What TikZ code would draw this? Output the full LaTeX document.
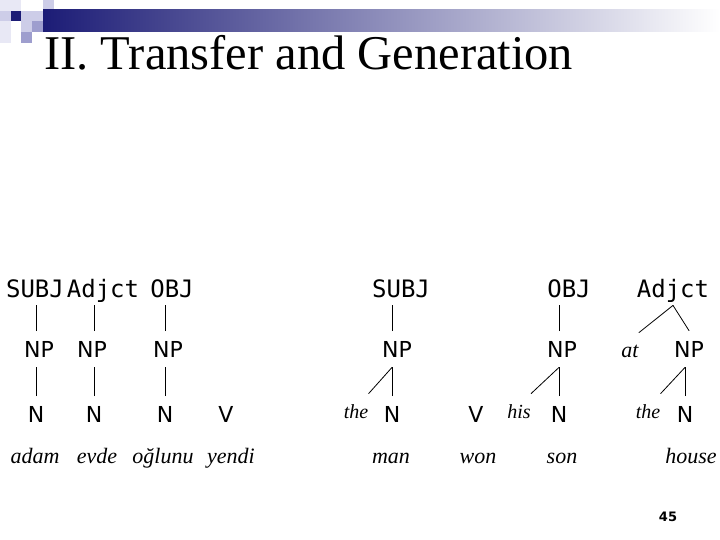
\documentclass[tikz,border=0pt]{standalone}
\usepackage{fontspec}
\setmainfont{Liberation Serif}
\newfontfamily\monofont{DejaVu Sans Mono}
\newfontfamily\catfont{DejaVu Sans}
\definecolor{navy}{RGB}{28,28,118}
\definecolor{barmid}{RGB}{182,182,206}
\definecolor{sqvlight}{RGB}{232,232,245}
\definecolor{sqlight}{RGB}{205,205,232}
\definecolor{sqmid}{RGB}{158,158,206}
\begin{document}
\begin{tikzpicture}[x=1pt, y=-1pt, line join=round, line cap=round, line width=0.8pt,
	fn/.style={font=\monofont\fontsize{24}{24}\selectfont, anchor=base, text height=17pt, text depth=0pt, inner xsep=0pt, inner ysep=8pt},
	cat/.style={font=\catfont\fontsize{22}{22}\selectfont, anchor=base, text height=16pt, text depth=0pt, inner xsep=0pt, inner ysep=10pt},
	word/.style={font=\itshape\fontsize{22}{22}\selectfont, anchor=base, text height=14pt, text depth=0pt, inner xsep=0pt, inner ysep=10pt},
	det/.style={word, font=\itshape\fontsize{20}{20}\selectfont}]
	\useasboundingbox (0,0) rectangle (720,540);
	\def\cell{10.7}
	\foreach \c/\r/\col in {0/0/sqvlight,1/0/sqvlight,4/0/sqlight,0/1/sqlight,1/1/navy,2/1/sqlight,3/1/sqlight,0/2/sqvlight,2/2/sqlight,3/2/sqmid,0/3/sqvlight,2/3/sqmid}
		\fill[\col] (\c*\cell,\r*\cell) rectangle ++(\cell,\cell);
	\shade[left color=navy, middle color=barmid, right color=white] (43,10) rectangle (720,32);
	\node[anchor=base west, inner sep=0pt, font=\fontsize{48.5}{48.5}\selectfont] (title) at (44,70) {II. Transfer and Generation};
	% Turkish
	\node[fn] (subj1) at (35,297) {SUBJ};
	\node[fn] (adjct1) at (103,297) {Adjct};
	\node[fn] (obj1) at (172,297) {OBJ};
	\node[cat] (np1) at (39,357) {NP};
	\node[cat] (np2) at (92,357) {NP};
	\node[cat] (np3) at (168,357) {NP};
	\node[cat] (n1) at (36,422) {N};
	\node[cat] (n2) at (94,422) {N};
	\node[cat] (n3) at (165,422) {N};
	\node[cat] (v1) at (226,422) {V};
	\node[word] (adam) at (35,463) {adam};
	\node[word] (evde) at (97,463) {evde};
	\node[word] (oglunu) at (163,463) {oğlunu};
	\node[word] (yendi) at (231,463) {yendi};
	\draw (subj1.south -| n1) -- (np1.north -| n1);
	\draw (adjct1.south -| n2) -- (np2.north -| n2);
	\draw (obj1.south -| n3) -- (np3.north -| n3);
	\draw (np1.south -| n1) -- (n1.north);
	\draw (np2.south -| n2) -- (n2.north);
	\draw (np3.south -| n3) -- (n3.north);
	% English
	\node[fn] (subj2) at (401,297) {SUBJ};
	\node[cat] (np4) at (397,357) {NP};
	\node[det] (the2) at (356,418) {the};
	\node[cat] (n4) at (392,422) {N};
	\node[word] (man) at (391,463) {man};
	\node[cat] (v2) at (476,422) {V};
	\node[word] (won) at (478,463) {won};
	\node[fn] (obj2) at (569,297) {OBJ};
	\node[cat] (np5) at (562,357) {NP};
	\node[det] (his) at (519,418) {his};
	\node[cat] (n5) at (559,422) {N};
	\node[word] (son) at (562,463) {son};
	\node[fn] (adjct2) at (673,297) {Adjct};
	\node[word] (at) at (630,357) {at};
	\node[cat] (np6) at (689,357) {NP};
	\node[det] (the3) at (648,418) {the};
	\node[cat] (n6) at (685,422) {N};
	\node[word] (house) at (691,463) {house};
	\draw (subj2.south -| n4) -- (np4.north -| n4);
	\draw (np4.south -| n4) -- (n4.north);
	\draw (np4.south -| n4) -- (the2.north east);
	\draw (obj2.south -| n5) -- (np5.north -| n5);
	\draw (np5.south -| n5) -- (n5.north);
	\draw (np5.south -| n5) -- (his.north east);
	\draw (adjct2.south) -- (at.north east);
	\draw (adjct2.south) -- (np6.north);
	\draw (np6.south -| n6) -- (n6.north);
	\draw (np6.south -| n6) -- (the3.north east);
	\node[anchor=base, font=\catfont\bfseries\fontsize{13}{13}\selectfont] (pagenum) at (668,521) {45};
\end{tikzpicture}
\end{document}
